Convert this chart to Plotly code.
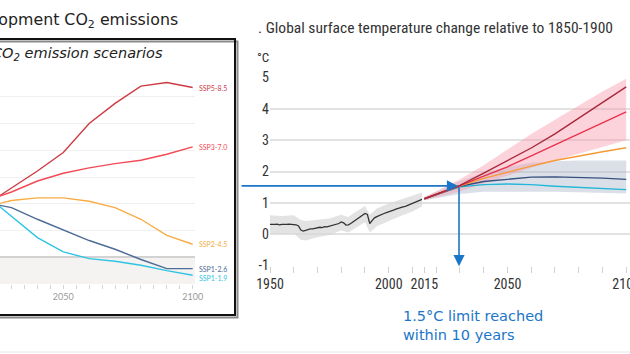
import plotly.graph_objects as go

W, H = 630, 354


def px(x):
    return x / W


def py(y):
    return 1 - y / H


# ---------------- Left panel: CO2 emission scenarios (GtCO2/yr) ----------------
co2_years = [2025, 2030, 2040, 2050, 2060, 2070, 2080, 2090, 2100]
co2_ssp585 = [45.5, 52.0, 64.5, 78.3, 100.0, 115.0, 128.0, 130.6, 126.9]
co2_ssp370 = [45.5, 48.8, 57.0, 62.8, 66.8, 70.0, 72.5, 77.0, 82.5]
co2_ssp245 = [40.0, 42.4, 44.4, 44.4, 41.9, 37.1, 28.4, 16.4, 9.7]
co2_ssp126 = [39.0, 37.1, 28.4, 20.2, 12.5, 6.0, -1.7, -8.5, -8.5]
co2_ssp119 = [38.5, 30.4, 14.7, 4.0, -1.0, -3.0, -6.0, -10.0, -13.5]
co2_series = [co2_ssp585, co2_ssp370, co2_ssp245, co2_ssp126, co2_ssp119]
co2_names = ["SSP5-8.5", "SSP3-7.0", "SSP2-4.5", "SSP1-2.6", "SSP1-1.9"]
co2_colors = ["#cc3b43", "#f24a55", "#f8ac45", "#4d6c96", "#2ec4e4"]
co2_label_shift = [0, 0, 0, 0, -3]
co2_xticks = [2050, 2100]
co2_xtick_labels = ["2050", "2100"]
co2_yticks = [0, 20, 40, 60, 80, 100, 120, 140]

# ---------------- Right panel: global surface temperature change (°C) ----------------
hist_years = list(range(1950, 2015))
hist_temp = [0.31, 0.30, 0.31, 0.32, 0.30, 0.31, 0.30, 0.31, 0.32, 0.31,
             0.31, 0.30, 0.26, 0.13, 0.10, 0.13, 0.15, 0.17, 0.17, 0.19,
             0.21, 0.22, 0.21, 0.24, 0.23, 0.25, 0.26, 0.28, 0.30, 0.34,
             0.39, 0.36, 0.29, 0.30, 0.34, 0.39, 0.45, 0.50, 0.55, 0.61,
             0.66, 0.63, 0.34, 0.43, 0.52, 0.56, 0.60, 0.63, 0.66, 0.69,
             0.71, 0.74, 0.77, 0.80, 0.83, 0.85, 0.87, 0.89, 0.92, 0.95,
             0.98, 1.01, 1.04, 1.07, 1.11]
band_years = [1950, 1955, 1960, 1963, 1965, 1970, 1975, 1980, 1983, 1985,
              1990, 1992, 1995, 2000, 2005, 2010, 2014]
band_hi = [0.60, 0.58, 0.60, 0.45, 0.42, 0.45, 0.50, 0.62, 0.55, 0.66,
           0.90, 0.62, 0.82, 0.98, 1.10, 1.22, 1.33]
band_lo = [0.02, 0.00, 0.02, -0.18, -0.20, -0.10, -0.03, 0.12, 0.05, 0.15,
           0.38, 0.05, 0.25, 0.42, 0.58, 0.72, 0.88]

proj_years = [2015, 2020, 2025, 2030, 2040, 2050, 2060, 2070, 2080, 2090, 2100]
t_ssp585 = [1.13, 1.27, 1.41, 1.56, 1.95, 2.35, 2.75, 3.20, 3.70, 4.20, 4.70]
t_ssp370 = [1.13, 1.27, 1.40, 1.55, 1.85, 2.15, 2.50, 2.85, 3.20, 3.55, 3.90]
t_ssp245 = [1.13, 1.27, 1.40, 1.54, 1.78, 1.98, 2.17, 2.35, 2.50, 2.63, 2.76]
t_ssp126 = [1.13, 1.27, 1.40, 1.53, 1.68, 1.76, 1.82, 1.83, 1.82, 1.79, 1.75]
t_ssp119 = [1.13, 1.27, 1.39, 1.51, 1.58, 1.60, 1.58, 1.53, 1.50, 1.46, 1.42]
t_series = [t_ssp119, t_ssp126, t_ssp245, t_ssp370, t_ssp585]
t_colors = ["#22b6d8", "#36507f", "#f59a35", "#e8334c", "#a9283a"]
pink_hi = [1.18, 1.38, 1.56, 1.75, 2.20, 2.70, 3.20, 3.65, 4.10, 4.55, 4.96]
pink_lo = [1.08, 1.16, 1.26, 1.36, 1.62, 1.88, 2.12, 2.35, 2.57, 2.78, 3.00]
gray_hi = [1.18, 1.35, 1.52, 1.70, 1.95, 2.15, 2.28, 2.33, 2.35, 2.35, 2.35]
gray_lo = [1.08, 1.15, 1.22, 1.28, 1.35, 1.36, 1.35, 1.35, 1.33, 1.32, 1.30]

t_xticks = [1950, 2000, 2015, 2050, 2100]
t_xtick_labels = ["1950", "2000", "2015", "2050", "2100"]
t_yticks = [-1, 0, 1, 2, 3, 4, 5]
t_ytick_labels = ["-1", "0", "1", "2", "3", "4", "5"]

limit_level = 1.54
limit_year = 2029.6
arrow_tail_year = 1937.4
arrow_tip_year = 2029.2
arrow_bottom = -1.02

NARROW = "Liberation Sans Narrow, Arial Narrow, Roboto Condensed, Liberation Sans"
BLUE = "#1b76c9"

fig = go.Figure()

# left panel lines
for vals, name, col in zip(co2_series, co2_names, co2_colors):
    fig.add_trace(go.Scatter(x=co2_years, y=vals, mode="lines", name=name,
                             line=dict(color=col, width=1.4),
                             xaxis="x", yaxis="y", showlegend=False, hoverinfo="skip"))

# right panel bands
fig.add_trace(go.Scatter(x=band_years + band_years[::-1], y=band_hi + band_lo[::-1],
                         fill="toself", fillcolor="rgba(215,215,215,0.7)", line=dict(width=0),
                         mode="lines", xaxis="x2", yaxis="y2", showlegend=False, hoverinfo="skip"))
fig.add_trace(go.Scatter(x=proj_years + proj_years[::-1], y=gray_hi + gray_lo[::-1],
                         fill="toself", fillcolor="rgba(170,180,200,0.42)", line=dict(width=0),
                         mode="lines", xaxis="x2", yaxis="y2", showlegend=False, hoverinfo="skip"))
fig.add_trace(go.Scatter(x=proj_years + proj_years[::-1], y=pink_hi + pink_lo[::-1],
                         fill="toself", fillcolor="rgba(248,150,170,0.42)", line=dict(width=0),
                         mode="lines", xaxis="x2", yaxis="y2", showlegend=False, hoverinfo="skip"))
fig.add_trace(go.Scatter(x=hist_years, y=hist_temp, mode="lines",
                         line=dict(color="#333333", width=1.3),
                         xaxis="x2", yaxis="y2", showlegend=False, hoverinfo="skip"))
for vals, col in zip(t_series, t_colors):
    fig.add_trace(go.Scatter(x=proj_years, y=vals, mode="lines",
                             line=dict(color=col, width=1.4),
                             xaxis="x2", yaxis="y2", showlegend=False, hoverinfo="skip"))

annotations = []
# scenario labels
for vals, name, col, sh in zip(co2_series, co2_names, co2_colors, co2_label_shift):
    annotations.append(dict(x=co2_years[-1], y=vals[-1], xref="x", yref="y", text=name,
                            showarrow=False, xanchor="left", yanchor="middle", xshift=4,
                            yshift=sh, font=dict(family="Lato", size=7, color=col)))
# titles
annotations.append(dict(x=px(180), y=py(21), xref="paper", yref="paper",
                        text="Development CO<sub>2</sub> emissions", showarrow=False,
                        xanchor="right", yanchor="middle",
                        font=dict(family="DejaVu Sans", size=15.8, color="#222222")))
annotations.append(dict(x=px(165), y=py(54), xref="paper", yref="paper",
                        text="CO<sub>2</sub> emission scenarios", showarrow=False,
                        xanchor="right", yanchor="middle",
                        font=dict(family="DejaVu Sans", size=14.5, color="#222222", style="italic")))
annotations.append(dict(x=px(256), y=py(28), xref="paper", yref="paper",
                        text=". Global surface temperature change relative to 1850-1900",
                        showarrow=False, xanchor="left", yanchor="middle",
                        font=dict(family=NARROW, size=15.5, color="#333333")))
annotations.append(dict(x=px(255), y=py(57), xref="paper", yref="paper", text="°C",
                        showarrow=False, xanchor="left", yanchor="middle",
                        font=dict(family=NARROW, size=13, color="#333333")))
annotations.append(dict(x=px(401), y=py(325), xref="paper", yref="paper",
                        text="1.5°C limit reached<br>within 10 years", showarrow=False,
                        xanchor="left", yanchor="middle", align="left",
                        font=dict(family="DejaVu Sans", size=14.5, color=BLUE)))
# arrows
annotations.append(dict(x=arrow_tip_year, y=limit_level, ax=arrow_tail_year, ay=limit_level,
                        xref="x2", yref="y2", axref="x2", ayref="y2", text="",
                        showarrow=True, arrowhead=2, arrowsize=1.4, arrowwidth=1.6,
                        arrowcolor=BLUE, standoff=0, startstandoff=0))
annotations.append(dict(x=limit_year, y=arrow_bottom, ax=limit_year, ay=limit_level,
                        xref="x2", yref="y2", axref="x2", ayref="y2", text="",
                        showarrow=True, arrowhead=2, arrowsize=1.4, arrowwidth=1.6,
                        arrowcolor=BLUE, standoff=0, startstandoff=0))

shapes = [
    # negative-emission shaded area
    dict(type="rect", xref="x domain", yref="y", x0=0, x1=1, y0=-20, y1=0,
         fillcolor="#f4f3f2", line=dict(width=0), layer="below"),
    # box shadow and box
    dict(type="rect", xref="paper", yref="paper", x0=px(-10), x1=px(237.5),
         y0=py(317.5), y1=py(41.5), line=dict(color="#8a8a8a", width=2)),
    dict(type="rect", xref="paper", yref="paper", x0=px(-10), x1=px(235),
         y0=py(315), y1=py(39), line=dict(color="#111111", width=2)),
    # faint bottom line
    dict(type="line", xref="paper", yref="paper", x0=0, x1=1, y0=py(352), y1=py(352),
         line=dict(color="#e6e6e6", width=1)),
]

fig.update_layout(
    width=W, height=H, margin=dict(l=0, r=0, t=0, b=0, pad=0, autoexpand=False),
    paper_bgcolor="white", plot_bgcolor="white",
    showlegend=False,
    xaxis=dict(domain=[0, px(195)], range=[2025.54, 2100.9], anchor="y", automargin=False,
               tickmode="array", tickvals=co2_xticks, ticktext=co2_xtick_labels,
               ticks="outside", ticklen=4, tickcolor="#d5d5d5", tickwidth=1,
               ticklabeloverflow="allow",
               minor=dict(tick0=2030, dtick=5, ticks="outside", ticklen=4,
                          tickcolor="#d5d5d5", tickwidth=1, showgrid=False),
               tickfont=dict(family="Lato", size=9, color="#9a9a9a"),
               showgrid=False, zeroline=False, showline=False),
    yaxis=dict(domain=[py(284), py(70)], range=[-20, 140], anchor="x", automargin=False,
               tickmode="array", tickvals=co2_yticks, showticklabels=False, ticks="",
               showgrid=True, gridcolor="#f0f0f0", gridwidth=1,
               zeroline=True, zerolinecolor="#d2d2d2", zerolinewidth=1.5),
    xaxis2=dict(domain=[px(270), 1], range=[1950, 2101.6], anchor="y2", automargin=False,
                tickmode="array", tickvals=t_xticks, ticktext=t_xtick_labels,
                ticks="outside", ticklen=6, tickcolor="#d0d0d0", tickwidth=1,
                ticklabeloverflow="allow",
                minor=dict(tick0=1950, dtick=10, ticks="outside", ticklen=6,
                           tickcolor="#d0d0d0", tickwidth=1, showgrid=False),
                tickfont=dict(family=NARROW, size=14, color="#333333"),
                showgrid=False, zeroline=False, showline=False),
    yaxis2=dict(domain=[py(265.5), py(77.5)], range=[-1, 5], anchor="x2", automargin=False,
                tickmode="array", tickvals=t_yticks, ticktext=t_ytick_labels, ticks="",
                tickfont=dict(family=NARROW, size=14, color="#333333"),
                showgrid=True, gridcolor="#e2e2e2", gridwidth=1.5, zeroline=False),
    annotations=annotations,
    shapes=shapes,
)

fig.write_html("out.html")
